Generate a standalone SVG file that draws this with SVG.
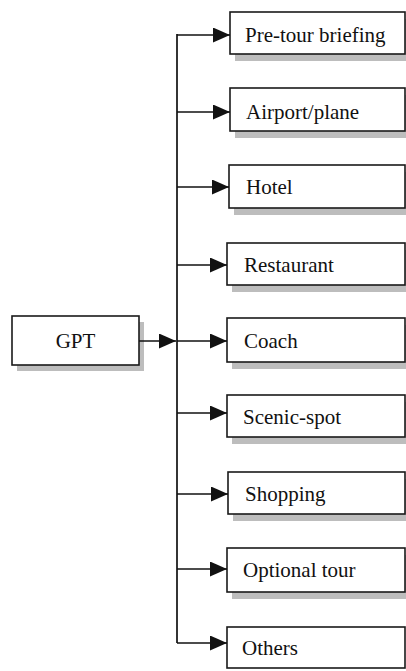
<svg xmlns="http://www.w3.org/2000/svg" width="406" height="671" viewBox="0 0 406 671" font-family="'Liberation Serif', 'Times New Roman', serif">
  <defs>
    <style>
      .shadow { fill: #bdbdbd; }
      .box { fill: #ffffff; stroke: #1a1a1a; stroke-width: 1.6; }
      .label { font-family: 'Liberation Serif', 'Times New Roman', serif; font-size: 21px; fill: #111; }
      .wire { fill: none; stroke: #111; stroke-width: 1.7; }
    </style>
    <marker id="arrow" markerWidth="17" markerHeight="15" refX="17" refY="7.5" orient="auto" markerUnits="userSpaceOnUse">
      <path d="M0,0 L17,7.5 L0,15 Z" fill="#111"/>
    </marker>
  </defs>
  <rect width="406" height="671" fill="#ffffff"/>

  <!-- source node -->
  <g id="gpt">
    <rect class="shadow" x="17" y="322" width="127" height="49"/>
    <rect class="box" x="12" y="316" width="127" height="49"/>
    <text class="label" x="75.5" y="348" text-anchor="middle">GPT</text>
  </g>

  <!-- target nodes -->
  <g id="pre-tour-briefing">
    <rect class="shadow" x="235" y="19" width="171" height="42"/>
    <rect class="box" x="230" y="12" width="175" height="42"/>
    <text class="label" x="245" y="42">Pre-tour briefing</text>
  </g>
  <g id="airport-plane">
    <rect class="shadow" x="235" y="95" width="171" height="43"/>
    <rect class="box" x="230" y="88" width="175" height="43"/>
    <text class="label" x="246" y="119">Airport/plane</text>
  </g>
  <g id="hotel">
    <rect class="shadow" x="234" y="172" width="172" height="43"/>
    <rect class="box" x="229" y="165" width="176" height="43"/>
    <text class="label" x="246" y="194">Hotel</text>
  </g>
  <g id="restaurant">
    <rect class="shadow" x="232" y="250" width="174" height="42"/>
    <rect class="box" x="227" y="243" width="178" height="42"/>
    <text class="label" x="244" y="272">Restaurant</text>
  </g>
  <g id="coach">
    <rect class="shadow" x="232" y="325" width="174" height="44"/>
    <rect class="box" x="227" y="318" width="178" height="44"/>
    <text class="label" x="244" y="348">Coach</text>
  </g>
  <g id="scenic-spot">
    <rect class="shadow" x="232" y="402" width="174" height="42"/>
    <rect class="box" x="227" y="395" width="178" height="42"/>
    <text class="label" x="243" y="424">Scenic-spot</text>
  </g>
  <g id="shopping">
    <rect class="shadow" x="233" y="479" width="173" height="42"/>
    <rect class="box" x="228" y="472" width="177" height="42"/>
    <text class="label" x="245" y="501">Shopping</text>
  </g>
  <g id="optional-tour">
    <rect class="shadow" x="232" y="555" width="174" height="44"/>
    <rect class="box" x="227" y="548" width="178" height="44"/>
    <text class="label" x="243" y="577">Optional tour</text>
  </g>
  <g id="others">
    <rect class="box" x="227" y="627" width="178" height="41"/>
    <text class="label" x="242" y="655">Others</text>
  </g>

  <!-- connectors -->
  <g id="connectors">
    <line class="wire" x1="139" y1="341" x2="176" y2="341" marker-end="url(#arrow)"/>
    <path class="wire" d="M177,34 V643"/>
    <line class="wire" x1="177" y1="35" x2="230" y2="35" marker-end="url(#arrow)"/>
    <line class="wire" x1="177" y1="112" x2="230" y2="112" marker-end="url(#arrow)"/>
    <line class="wire" x1="177" y1="187" x2="229" y2="187" marker-end="url(#arrow)"/>
    <line class="wire" x1="177" y1="265" x2="227" y2="265" marker-end="url(#arrow)"/>
    <line class="wire" x1="177" y1="341" x2="227" y2="341" marker-end="url(#arrow)"/>
    <line class="wire" x1="177" y1="413" x2="227" y2="413" marker-end="url(#arrow)"/>
    <line class="wire" x1="177" y1="494" x2="228" y2="494" marker-end="url(#arrow)"/>
    <line class="wire" x1="177" y1="569" x2="227" y2="569" marker-end="url(#arrow)"/>
    <line class="wire" x1="177" y1="643" x2="227" y2="643" marker-end="url(#arrow)"/>
  </g>
</svg>
